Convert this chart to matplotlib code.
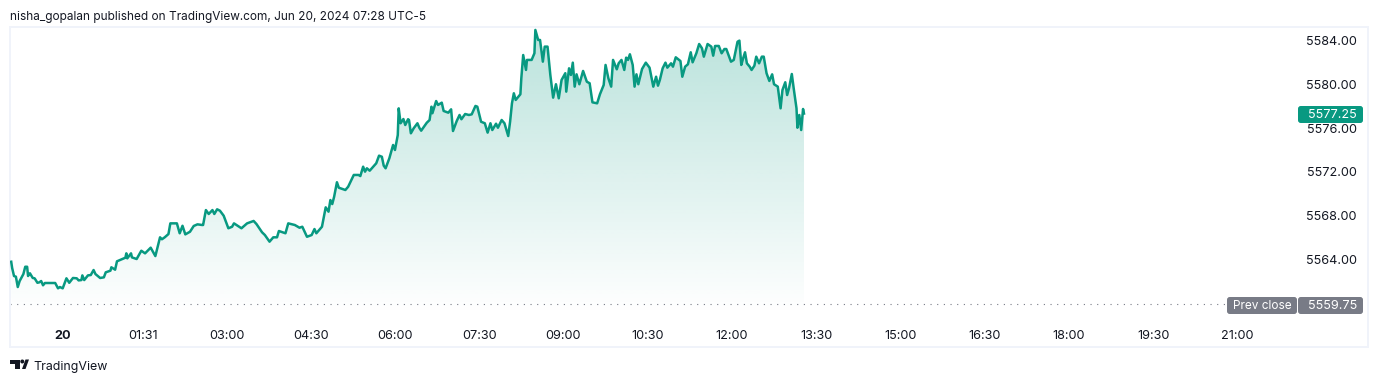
#!/usr/bin/env python3
"""Intraday futures area chart, TradingView snapshot style."""
import numpy as np
import matplotlib
matplotlib.use("Agg")
import matplotlib.pyplot as plt
from matplotlib.patches import FancyBboxPatch, Polygon, Ellipse
from matplotlib.transforms import ScaledTranslation

plt.rcParams["font.family"] = ["Inter", "DejaVu Sans"]

W, H = 1378, 382

# minutes after midnight, Jun 20
minutes = [
    -50, -49, -47, -45, -43, -41, -37, -35, -33, -32, -30, -27, -25, -22, -20, -18, -16, -14, -3, 0,
    2, 5, 9, 12, 16, 20, 22, 25, 26, 28, 32, 35, 38, 40, 45, 49, 51, 56, 57, 61,
    63, 68, 72, 73, 74, 78, 79, 84, 89, 93, 99, 104, 109, 111, 114, 118, 120, 127, 130, 133,
    136, 141, 145, 149, 154, 155, 158, 161, 165, 167, 170, 173, 177, 182, 186, 188, 196, 202, 209, 212,
    218, 221, 226, 230, 234, 236, 243, 246, 253, 258, 261, 266, 271, 274, 276, 282, 286, 289, 291, 293,
    295, 298, 300, 307, 310, 316, 321, 323, 326, 328, 330, 333, 340, 343, 346, 348, 350, 354, 358, 360,
    363, 364, 366, 369, 371, 374, 375, 377, 380, 384, 386, 388, 394, 397, 399, 400, 404, 406, 410, 412,
    417, 420, 422, 426, 429, 431, 435, 439, 442, 446, 448, 452, 456, 459, 462, 464, 468, 470, 474, 477,
    481, 483, 485, 487, 489, 494, 495, 497, 500, 501, 506, 509, 510, 513, 515, 518, 520, 523, 526, 529,
    532, 535, 538, 542, 543, 546, 548, 550, 552, 554, 557, 561, 565, 568, 571, 576, 579, 583, 585, 588,
    591, 593, 597, 599, 602, 605, 607, 609, 611, 614, 616, 618, 620, 624, 628, 632, 636, 639, 641, 643,
    646, 649, 651, 655, 657, 660, 665, 667, 670, 673, 676, 678, 682, 685, 688, 690, 694, 698, 700, 702,
    706, 709, 712, 714, 719, 722, 726, 728, 730, 732, 734, 736, 739, 741, 744, 746, 749, 752, 754, 757,
    760, 763, 765, 769, 772, 774, 777, 779, 781, 784, 786, 789, 790, 792, 794, 796, 797,
]
prices = [
    5563.66, 5563.08, 5562.35, 5562.29, 5561.34, 5561.89, 5562.53, 5563.20, 5563.20, 5562.35,
    5562.60, 5562.17, 5562.14, 5561.73, 5561.77, 5561.89, 5561.50, 5561.71, 5561.71, 5561.22,
    5561.34, 5561.22, 5562.14, 5561.73, 5562.17, 5562.14, 5561.95, 5561.98, 5562.41, 5561.98,
    5562.41, 5562.44, 5562.90, 5562.53, 5562.17, 5562.23, 5562.69, 5562.84, 5563.15, 5562.93,
    5563.70, 5563.88, 5564.03, 5564.43, 5563.97, 5564.43, 5564.06, 5563.91, 5564.67, 5564.43,
    5564.95, 5564.18, 5565.90, 5565.72, 5565.90, 5566.20, 5567.18, 5567.18, 5566.27, 5566.96,
    5566.17, 5566.41, 5566.94, 5567.09, 5567.03, 5567.03, 5568.40, 5568.04, 5568.40, 5568.04,
    5568.47, 5568.34, 5567.88, 5566.73, 5566.87, 5567.18, 5566.73, 5567.18, 5567.40, 5567.12,
    5566.36, 5566.11, 5565.50, 5565.90, 5565.90, 5566.48, 5566.27, 5567.18, 5567.03, 5566.78,
    5566.87, 5565.95, 5566.11, 5566.66, 5566.27, 5566.87, 5568.65, 5568.25, 5569.32, 5568.95,
    5569.62, 5570.95, 5570.45, 5570.24, 5570.54, 5571.62, 5571.62, 5571.52, 5572.38, 5571.92,
    5572.23, 5572.01, 5572.69, 5573.39, 5573.29, 5572.47, 5572.23, 5573.15, 5574.37, 5573.91,
    5575.28, 5577.73, 5576.36, 5576.75, 5576.20, 5576.73, 5576.66, 5575.44, 5575.90, 5576.36,
    5575.95, 5575.68, 5576.41, 5576.66, 5577.88, 5577.28, 5578.40, 5578.04, 5578.25, 5577.49,
    5577.33, 5577.64, 5575.65, 5576.57, 5577.12, 5576.73, 5577.21, 5577.12, 5577.18, 5577.95,
    5577.88, 5576.50, 5576.36, 5575.50, 5576.36, 5575.74, 5576.32, 5575.95, 5576.66, 5576.36,
    5575.19, 5576.50, 5578.19, 5579.11, 5578.50, 5579.02, 5580.49, 5582.62, 5581.25, 5582.17,
    5582.17, 5582.78, 5584.92, 5584.00, 5584.00, 5582.01, 5583.39, 5583.39, 5580.79, 5578.71,
    5579.94, 5578.65, 5580.33, 5580.95, 5579.26, 5581.40, 5580.79, 5581.92, 5579.72, 5580.85,
    5579.94, 5581.16, 5580.17, 5580.03, 5578.28, 5578.19, 5579.02, 5579.87, 5581.71, 5580.49,
    5579.72, 5582.17, 5581.31, 5581.86, 5582.17, 5581.25, 5582.38, 5582.17, 5582.69, 5581.71,
    5579.72, 5580.85, 5579.94, 5581.34, 5581.92, 5581.46, 5579.72, 5580.63, 5579.81, 5580.33,
    5581.40, 5581.92, 5581.46, 5581.86, 5581.55, 5582.41, 5582.07, 5580.63, 5581.55, 5581.77,
    5582.87, 5581.95, 5582.78, 5583.63, 5583.24, 5582.47, 5583.63, 5583.39, 5582.56, 5583.45,
    5583.45, 5582.78, 5583.17, 5583.17, 5582.01, 5582.17, 5583.84, 5583.94, 5581.71, 5582.32,
    5582.87, 5581.86, 5581.55, 5581.25, 5581.64, 5582.47, 5581.86, 5582.47, 5582.47, 5580.95,
    5580.24, 5580.85, 5579.94, 5579.72, 5577.73, 5579.41, 5580.12, 5578.95, 5579.57, 5580.88,
    5579.57, 5577.73, 5575.95, 5577.12, 5575.74, 5577.67, 5577.25,
]

time_ticks = [5, 91, 180, 270, 360, 450, 540, 630, 720, 810, 900, 990, 1080, 1170, 1260]
time_labels = ["20", "01:31", "03:00", "04:30", "06:00", "07:30", "09:00", "10:30", "12:00",
               "13:30", "15:00", "16:30", "18:00", "19:30", "21:00"]
price_ticks = [5564, 5568, 5572, 5576, 5580, 5584]
last_price = 5577.25
prev_close = 5559.75

GREEN = "#089981"
GREY = "#787b86"
TEXT = "#131722"
EDGE = "#f0f3fa"


def fx(x):
    return x / W


def fy(y):
    return 1 - y / H


fig = plt.figure(figsize=(W / 100, H / 100), dpi=100, facecolor="white")
ax = fig.add_axes([fx(10), fy(347), fx(1358), 320 / H])
ax.set_xlim(-51.3, 1399.6)
ax.set_ylim(5555.84, 5585.19)

# area gradient, clipped to the area under the line
grad = np.zeros((256, 1, 4))
grad[..., :3] = matplotlib.colors.to_rgb(GREEN)
grad[..., 3] = np.linspace(0.28, 0.0, 256)[:, None]
img = ax.imshow(grad, extent=[-51.3, 797, prev_close - 1, 5585], aspect="auto",
                origin="upper", interpolation="bilinear", zorder=1)
poly = ax.fill_between(minutes, prices, prev_close - 1, color="none", lw=0)
img.set_clip_path(poly.get_paths()[0], transform=ax.transData)
ax.set_xlim(-51.3, 1399.6)
ax.set_ylim(5555.84, 5585.19)

ax.plot(minutes, prices, color=GREEN, lw=1.8, solid_joinstyle="round", zorder=3)
ax.plot([-51.3, 1249], [prev_close, prev_close], color=GREY, lw=0.8,
        dashes=(1, 5), zorder=2)

for s in ax.spines.values():
    s.set_color(EDGE)
    s.set_linewidth(1.44)

ax.yaxis.tick_right()
ax.set_yticks(price_ticks)
ax.set_yticklabels([f"{p:.2f}" for p in price_ticks], ha="right")
ax.tick_params(axis="y", length=0, pad=-8, labelsize=9.1, labelcolor=TEXT)
ax.set_xticks(time_ticks)
ax.set_xticklabels(time_labels)
ax.tick_params(axis="x", length=0, pad=-12.5, labelsize=9.1, labelcolor=TEXT)
ax.get_xticklabels()[0].set_fontweight("bold")
for lab in ax.get_yticklabels():
    lab.set_transform(lab.get_transform() + ScaledTranslation(0, -0.7 / 72, fig.dpi_scale_trans))


def tag(x0, x1, y0, y1, color, label, size=9.1, shift=0):
    fig.add_artist(FancyBboxPatch((fx(x0), fy(y1)), fx(x1 - x0), (y1 - y0) / H,
                                  boxstyle="round,pad=0,rounding_size=0.002",
                                  mutation_aspect=W / H, fc=color, ec="none",
                                  transform=fig.transFigure, zorder=5))
    fig.text(fx((x0 + x1) / 2 + shift), fy((y0 + y1) / 2 + 0.5), label, color="white", fontsize=size,
             ha="center", va="center", zorder=6)


tag(1298, 1363, 106, 123, GREEN, f"{last_price:.2f}", shift=2)
tag(1227, 1297, 297, 314, GREY, "Prev close", size=8.5)
tag(1298, 1363, 297, 314, GREY, f"{prev_close:.2f}", shift=2)

fig.text(fx(10), fy(20), "nisha_gopalan published on TradingView.com, Jun 20, 2024 07:28 UTC-5",
         color=TEXT, fontsize=8.5, ha="left", va="baseline")

# logo + wordmark
logo = [
    Polygon([(fx(10), fy(359.5)), (fx(19.5), fy(359.5)), (fx(19.5), fy(369)), (fx(14.7), fy(369)),
             (fx(14.7), fy(363.5)), (fx(10), fy(363.5))], transform=fig.transFigure),
    Polygon([(fx(22), fy(369)), (fx(25.5), fy(359.5)), (fx(29), fy(359.5)), (fx(25.5), fy(369))],
            transform=fig.transFigure),
    Ellipse((fx(22.3), fy(361.5)), 4 / W, 4 / H, transform=fig.transFigure),
]
for p in logo:
    p.set_facecolor(TEXT)
    p.set_edgecolor("none")
    fig.add_artist(p)
fig.text(fx(33.5), fy(370), "TradingView", color=TEXT, fontsize=8.95, ha="left", va="baseline")

fig.savefig("out.png", dpi=100)
